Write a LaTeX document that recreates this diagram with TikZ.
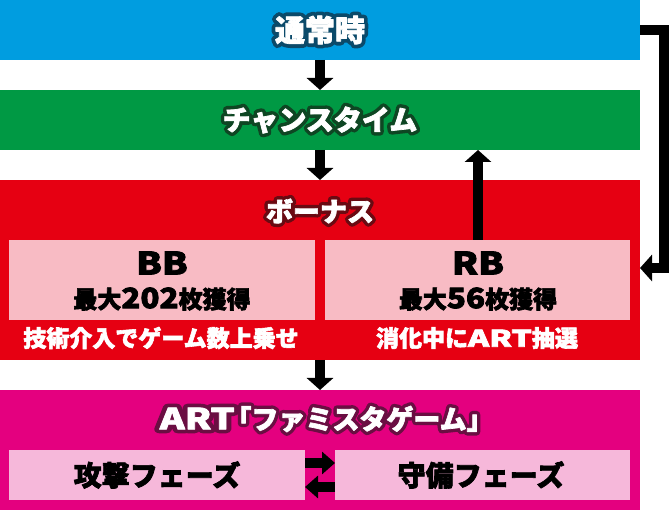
\documentclass[tikz,border=0pt]{standalone}
\usepackage{fontspec}
\usepackage{graphicx}
\setmainfont{Noto Sans CJK JP}
\newfontfamily\outlf{Noto Sans CJK JP}[BoldFeatures={FakeBold=28}]
\newfontfamily\heavyf{Noto Sans CJK JP}[BoldFeatures={FakeBold=2.5}]
\usetikzlibrary{arrows.meta}
\definecolor{cblue}{HTML}{009DE0}
\definecolor{cgreen}{HTML}{009944}
\definecolor{cred}{HTML}{E60012}
\definecolor{cmag}{HTML}{E4007F}
\definecolor{cpinkA}{HTML}{F8BBC4}
\definecolor{cpinkB}{HTML}{F6B8DA}
\definecolor{oblue}{HTML}{0B4A6A}
\definecolor{ogreen}{HTML}{0E4623}
\definecolor{ored}{HTML}{6A0A12}
\definecolor{omag}{HTML}{6A0E42}
\newcommand\outltext[2]{\leavevmode\rlap{\textcolor{#1}{\special{pdf:literal direct 1 j 1 J}\outlf\bfseries #2}}\textcolor{white}{\heavyf\bfseries #2}}
\newcommand\wideltr[2]{\scalebox{#1}[1]{#2}}
\begin{document}
\begin{tikzpicture}[x=1pt,y=-1pt,
  band/.style={anchor=north west,minimum width=640pt,inner sep=0pt,outer sep=0pt},
  subbox/.style={anchor=north west,inner sep=0pt,outer sep=0pt},
  ttl/.style={inner sep=0pt},
  dark/.style={inner sep=0pt,text=black},
  blk/.style={line width=10pt,-{Triangle[width=26pt,length=12pt]}},
  conn/.style={line width=10pt}]
\useasboundingbox (0,0) rectangle (670,510);
% bands
\node[band,fill=cblue,minimum height=60pt] (normal) at (0,0) {};
\node[band,fill=cgreen,minimum height=60pt] (chance) at (0,90) {};
\node[band,fill=cred,minimum height=180pt] (bonus) at (0,180) {};
\node[band,fill=cmag,minimum height=120pt] (art) at (0,390) {};
% sub boxes
\node[subbox,fill=cpinkA,minimum width=306pt,minimum height=80pt] (bb) at (9,240) {};
\node[subbox,fill=cpinkA,minimum width=305pt,minimum height=80pt] (rb) at (325,240) {};
\node[subbox,fill=cpinkB,minimum width=296pt,minimum height=50pt] (atk) at (9,450) {};
\node[subbox,fill=cpinkB,minimum width=295pt,minimum height=50pt] (def) at (335,450) {};
% titles
\node[ttl,font=\fontsize{30}{30}\selectfont] (tnormal) at (320,30) {\outltext{oblue}{通常時}};
\node[ttl,font=\fontsize{28}{28}\selectfont] (tchance) at (320,120) {\outltext{ogreen}{チャンスタイム}};
\node[ttl,font=\fontsize{27}{27}\selectfont] (tbonus) at (320,211) {\outltext{ored}{ボーナス}};
\node[ttl,font=\fontsize{27}{27}\selectfont] (tart) at (320,419) {\outltext{omag}{{\fontsize{29}{29}\selectfont\wideltr{1.3}{ART}}\kern-0.38em「ファミスタゲーム」\kern-0.5em}};
% sub texts
\node[dark,font=\fontsize{31}{31}\selectfont\heavyf\bfseries] (tbb) at (162,263) {\wideltr{1.2}{BB}};
\node[dark,font=\fontsize{24}{24}\selectfont\heavyf\bfseries] (tbb2) at (162,299) {最大{\fontsize{28}{28}\selectfont\wideltr{1.12}{202}}枚獲得};
\node[dark,font=\fontsize{31}{31}\selectfont\heavyf\bfseries] (trb) at (478,263) {\wideltr{1.2}{RB}};
\node[dark,font=\fontsize{24}{24}\selectfont\heavyf\bfseries] (trb2) at (478,299) {最大{\fontsize{28}{28}\selectfont\wideltr{1.12}{56}}枚獲得};
\node[inner sep=0pt,text=white,font=\fontsize{23}{23}\selectfont\heavyf\bfseries] (tbb3) at (161,338) {技術介入でゲーム数上乗せ};
\node[inner sep=0pt,text=white,font=\fontsize{23}{23}\selectfont\heavyf\bfseries] (trb3) at (477,338) {消化中に\wideltr{1.4}{ART}抽選};
\node[dark,font=\fontsize{28}{28}\selectfont\heavyf\bfseries] (tatk) at (157,475) {攻撃フェーズ};
\node[dark,font=\fontsize{28}{28}\selectfont\heavyf\bfseries] (tdef) at (481,475) {守備フェーズ};
% connectors
\draw[blk] (normal.south) -- (chance.north);
\draw[blk] (chance.south) -- (bonus.north);
\draw[blk] (bonus.south) -- (art.north);
\coordinate (upstart) at (478,240);
\draw[blk] (upstart) -- (upstart |- chance.south);
\coordinate (loopA) at (664,30);
\coordinate (loopB) at (664,268);
\draw[conn,line join=miter] (normal.east |- loopA) -- (loopA) -- (loopB) -- (652,268);
\draw[blk] (loopB) ++(-5,0) -- (bonus.east |- loopB);
\coordinate (ra) at (atk.east |- 0,463);
\coordinate (la) at (def.west |- 0,487);
\draw[line width=10pt,-{Triangle[width=22pt,length=13pt]}] (ra) -- (ra -| def.west);
\draw[line width=10pt,-{Triangle[width=22pt,length=13pt]}] (la) -- (la -| atk.east);
\end{tikzpicture}
\end{document}
